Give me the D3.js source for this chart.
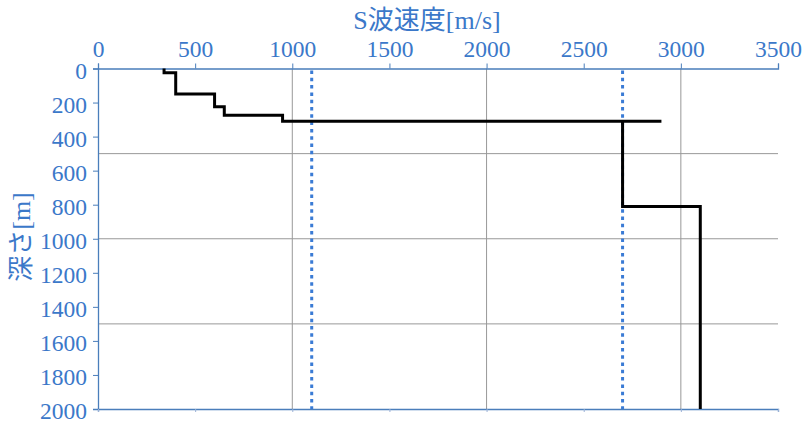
<!DOCTYPE html>
<html><head><meta charset="utf-8">
<script src="https://cdn.jsdelivr.net/npm/d3@7"></script>
<style>body{margin:0;background:#fff}svg{display:block}</style>
</head><body>
<svg id="c" width="810" height="426"></svg>
<script>
// Data
const profileVelocity = [340, 340, 400, 400, 600, 600, 650, 650, 950, 950, 2900, 2700, 2700, 3100, 3100];
const profileDepth    = [0,   25,  25,  150, 150, 225, 225, 275, 275, 310, 310,  310,  810,  810,  2000];
const refVelocities = [1100, 2700];
const xTicks = [0, 500, 1000, 1500, 2000, 2500, 3000, 3500];
const yTicks = [0, 200, 400, 600, 800, 1000, 1200, 1400, 1600, 1800, 2000];
const xGrid = [1000, 2000, 3000];
const yGrid = [500, 1000, 1500];
const xTitle = "S波速度[m/s]";
const yTitle = "深さ[m]";

const svg = d3.select("#c");
const L = 98, R = 778, T = 68.5, B = 409;
const x = d3.scaleLinear().domain([0, 3500]).range([L, R]);
const y = d3.scaleLinear().domain([0, 2000]).range([T, B]);
const blue = "#3b78c9", axisBlue = "#4a7ebb";
const font = "'Liberation Serif','Noto Sans CJK JP',serif";

// gridlines
svg.append("g").selectAll("line").data(xGrid).join("line")
  .attr("x1", d => x(d)).attr("x2", d => x(d)).attr("y1", T).attr("y2", B)
  .attr("stroke", "#989898").attr("stroke-width", 1);
svg.append("g").selectAll("line").data(yGrid).join("line")
  .attr("x1", L).attr("x2", R).attr("y1", d => y(d)).attr("y2", d => y(d))
  .attr("stroke", "#989898").attr("stroke-width", 1);

// top axis
const gx = svg.append("g").attr("transform", `translate(0,${T})`)
  .call(d3.axisTop(x).tickValues(xTicks).tickSize(5).tickPadding(6.5).tickFormat(d3.format("d")));
// left axis
const gy = svg.append("g").attr("transform", `translate(${L},0)`)
  .call(d3.axisLeft(y).tickValues(yTicks).tickSize(5).tickPadding(6).tickFormat(d3.format("d")));
// bottom axis line
const gb = svg.append("g").attr("transform", `translate(0,${B})`)
  .call(d3.axisBottom(x).tickValues(xTicks).tickSize(3).tickFormat(""));
[gx, gy, gb].forEach(g => {
  g.select(".domain").attr("stroke", axisBlue).attr("stroke-width", 1.3);
  g.selectAll(".tick line").attr("stroke", axisBlue).attr("stroke-width", 1);
  g.selectAll(".tick text").attr("fill", blue).attr("font-family", font).attr("font-size", 23.5);
});
gy.selectAll(".tick text").attr("dy", "0.42em");
gb.selectAll(".tick line").attr("stroke", "#9ab0d6");

// reference dotted lines
svg.append("g").selectAll("line").data(refVelocities).join("line")
  .attr("x1", d => x(d)).attr("x2", d => x(d)).attr("y1", T + 2).attr("y2", B)
  .attr("stroke", "#3a7bd5").attr("stroke-width", 3).attr("stroke-dasharray", "3.5,3.8");

// profile
const pts = profileVelocity.map((v, i) => [v, profileDepth[i]]);
svg.append("path").datum(pts)
  .attr("d", d3.line().x(d => x(d[0])).y(d => y(d[1])))
  .attr("fill", "none").attr("stroke", "#000").attr("stroke-width", 3)
  .attr("stroke-linejoin", "miter");

// titles
svg.append("text").attr("x", 427).attr("y", 29).attr("text-anchor", "middle")
  .attr("fill", blue).attr("font-family", font).attr("font-size", 26).text(xTitle);
svg.append("text").attr("transform", "translate(30,237) rotate(-90)").attr("text-anchor", "middle")
  .attr("fill", blue).attr("font-family", font).attr("font-size", 26).text(yTitle);
</script>
</body></html>
